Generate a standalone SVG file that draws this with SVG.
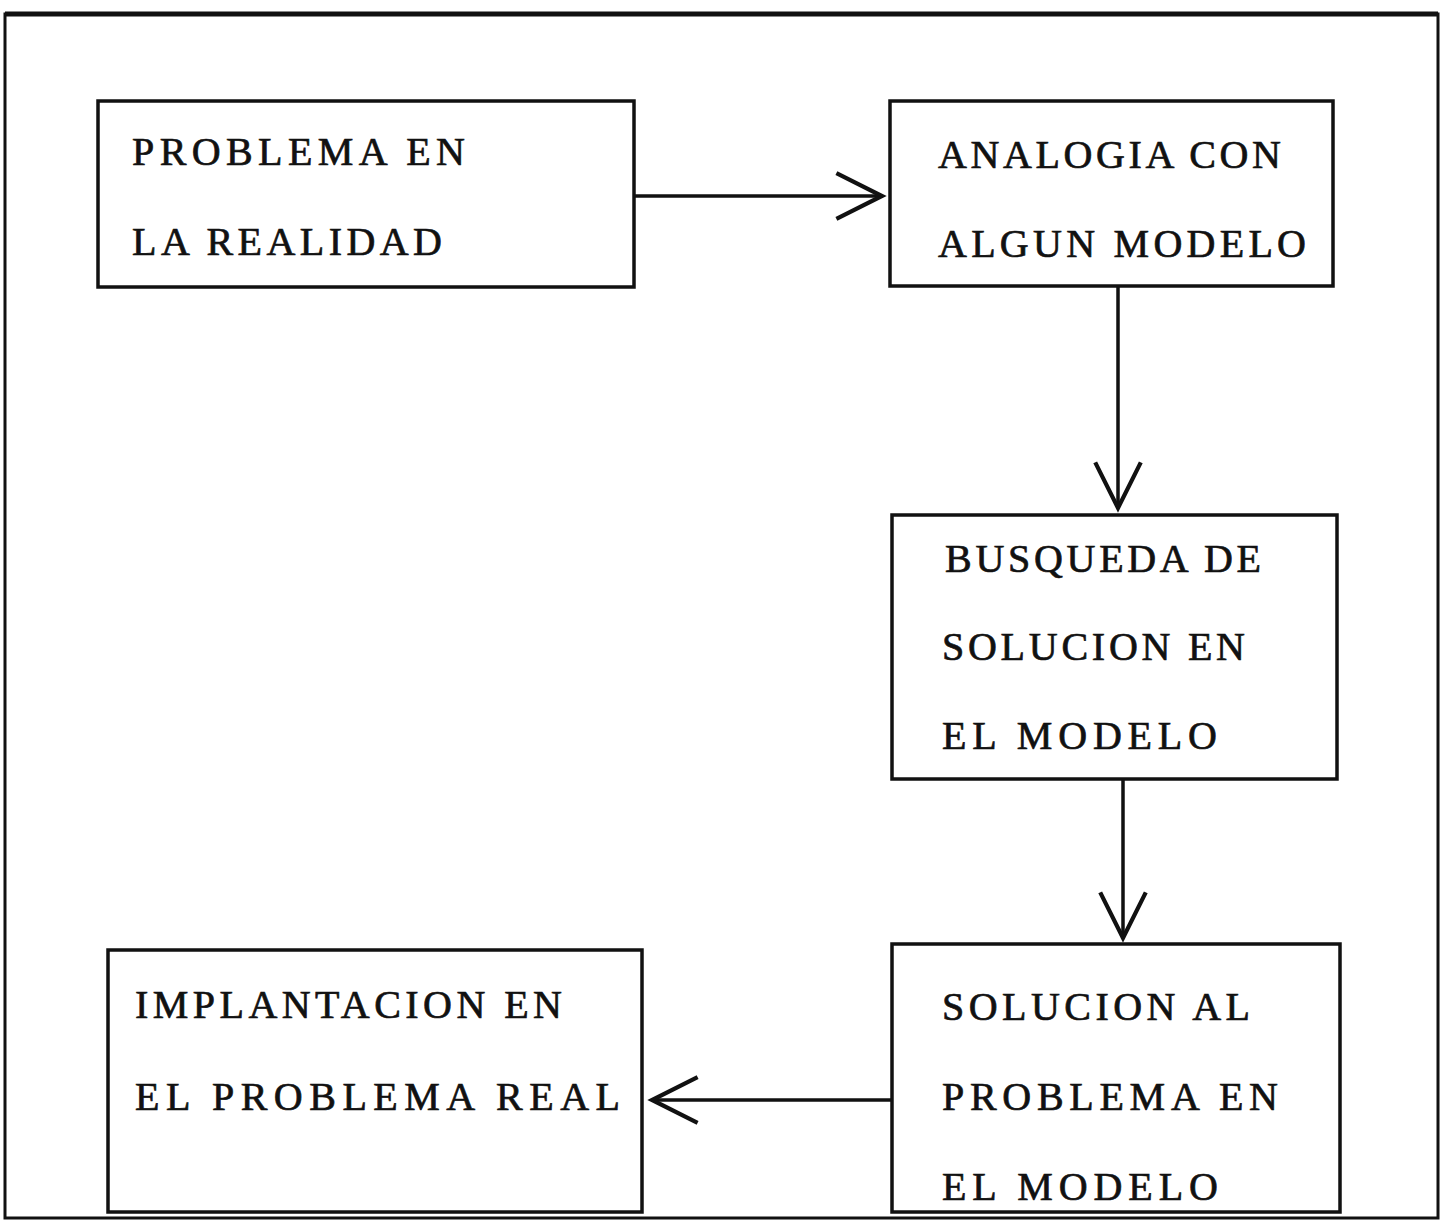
<svg xmlns="http://www.w3.org/2000/svg" width="1443" height="1224" viewBox="0 0 1443 1224">
<style>
.box{fill:none;stroke:#111;stroke-width:3.5}
.t{font-family:"Liberation Serif","DejaVu Serif",serif;font-size:40px;fill:#111;stroke:#111;stroke-width:0.7}
.c{fill:none;stroke:#111;stroke-width:3.5}
</style>
<defs>
<marker id="v" markerUnits="userSpaceOnUse" markerWidth="60" markerHeight="60" refX="0" refY="0" viewBox="-45 -25 50 50" orient="auto" overflow="visible">
<path d="M-38 -19 L0 0 L-38 19" fill="none" stroke="#111" stroke-width="3.5"/>
</marker>
</defs>
<rect width="1443" height="1224" fill="#fff"/>
<g id="frame">
<rect x="5" y="14" width="1433" height="1204" fill="none" stroke="#111" stroke-width="3"/>
<line x1="5" y1="14" x2="1438" y2="14" stroke="#111" stroke-width="5"/>
</g>
<g id="n1">
<rect class="box" x="98" y="101" width="536" height="186"/>
<text class="t" x="132" y="165" textLength="333" lengthAdjust="spacing">PROBLEMA EN</text>
<text class="t" x="132" y="255" textLength="310" lengthAdjust="spacing">LA REALIDAD</text>
</g>
<g id="n2">
<rect class="box" x="890" y="101" width="443" height="185"/>
<text class="t" x="938" y="168" textLength="343" lengthAdjust="spacing">ANALOGIA CON</text>
<text class="t" x="938" y="257" textLength="368" lengthAdjust="spacing">ALGUN MODELO</text>
</g>
<g id="n3">
<rect class="box" x="892" y="515" width="445" height="264"/>
<text class="t" x="945" y="572" textLength="316" lengthAdjust="spacing">BUSQUEDA DE</text>
<text class="t" x="942" y="660" textLength="303" lengthAdjust="spacing">SOLUCION EN</text>
<text class="t" x="942" y="749" textLength="275" lengthAdjust="spacing">EL MODELO</text>
</g>
<g id="n4">
<rect class="box" x="892" y="944" width="448" height="268"/>
<text class="t" x="942" y="1020" textLength="308" lengthAdjust="spacing">SOLUCION AL</text>
<text class="t" x="942" y="1110" textLength="336" lengthAdjust="spacing">PROBLEMA EN</text>
<text class="t" x="942" y="1200" textLength="276" lengthAdjust="spacing">EL MODELO</text>
</g>
<g id="n5">
<rect class="box" x="108" y="950" width="534" height="262"/>
<text class="t" x="135" y="1018" textLength="427" lengthAdjust="spacing">IMPLANTACION EN</text>
<text class="t" x="135" y="1110" textLength="485" lengthAdjust="spacing">EL PROBLEMA REAL</text>
</g>
<g id="connectors">
<line class="c" x1="634" y1="196" x2="882" y2="196" marker-end="url(#v)"/>
<line class="c" x1="1118" y1="287" x2="1118" y2="508" marker-end="url(#v)"/>
<line class="c" x1="1123" y1="780" x2="1123" y2="938" marker-end="url(#v)"/>
<line class="c" x1="892" y1="1100" x2="652" y2="1100" marker-end="url(#v)"/>
</g>
</svg>
